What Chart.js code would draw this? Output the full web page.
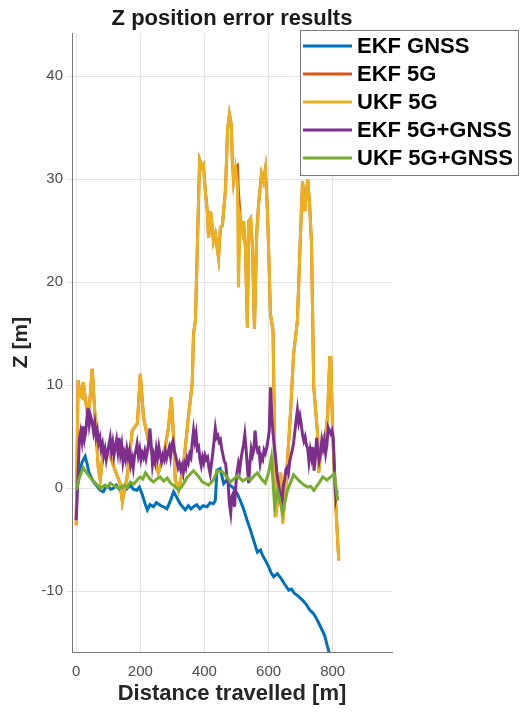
<!DOCTYPE html>
<html lang="en">
  <head>
    <meta charset="UTF-8" />
    <title>Z position error results</title>
    <script src="https://cdn.jsdelivr.net/npm/chart.js@4.4.1/dist/chart.umd.min.js"></script>
    <style>
      body { margin: 0; background: #fff; }
      #wrap { width: 523px; height: 713px; }
    </style>
  </head>
  <body>
    <div id="wrap"><canvas id="myChart"></canvas></div>

    <script>
      // values (distance in m, Z error in m)
      const xTicks = [0, 200, 400, 600, 800]
      const yTicks = [-10, 0, 10, 20, 30, 40]
      const labels = ['EKF GNSS', 'EKF 5G', 'UKF 5G', 'EKF 5G+GNSS', 'UKF 5G+GNSS']

      const ekfGnssDist = [0, 8, 18, 28, 34, 40, 48, 55, 65, 75, 85, 92, 100, 108, 116, 125, 137, 144, 150, 156, 163, 170, 178, 189, 197, 205, 215, 222, 230, 241, 250, 262, 272, 283, 294, 304, 314, 324, 332, 340, 350, 358, 366, 376, 386, 396, 408, 418, 428, 434, 439, 449, 460, 470, 480, 491, 502, 512, 522, 533, 543, 553, 565, 575, 581, 590, 600, 608, 616, 627, 638, 650, 663, 672, 680, 690, 700, 710, 718, 728, 738, 745, 752, 763, 775, 784, 795]
      const ekfGnssZ = [-0.5, 1.0, 2.5, 3.1, 2.4, 1.5, 1.0, 0.6, 0.2, -0.2, -0.35, 0.1, 0.2, -0.1, 0, 0.3, -0.2, 0.1, 0.2, -0.1, 0.1, 0.3, -0.1, -0.2, 0.1, -0.5, -1.5, -2.1, -1.6, -1.8, -1.4, -1.65, -1.8, -2.0, -1.2, -0.35, -0.9, -1.5, -1.8, -2.1, -1.7, -2.0, -1.8, -1.6, -2.0, -1.7, -1.8, -1.4, -1.5, -1.2, 1.75, 1.9, 0.45, 0.8, 0.3, 0, -0.5, -1.2, -2.0, -3.1, -4.0, -5.0, -6.2, -6.0, -6.5, -7.0, -7.6, -8.2, -8.6, -8.3, -8.7, -9.3, -9.9, -9.8, -10.2, -10.4, -10.7, -11.0, -11.3, -11.8, -12.1, -12.4, -12.8, -13.5, -14.3, -15.4, -16.6]

      const ukf5gDist = [0, 6, 12, 19, 22, 28, 37, 44, 50, 59, 69, 75, 84, 100, 122, 137, 144, 159, 175, 191, 200, 210, 225, 241, 256, 272, 288, 297, 303, 309, 319, 334, 350, 362, 366, 372, 385, 394, 397, 403, 409, 413, 419, 425, 428, 434, 440, 444, 450, 456, 466, 472, 478, 484, 487, 491, 497, 503, 506, 512, 519, 522, 528, 534, 538, 544, 550, 556, 563, 569, 578, 584, 590, 597, 606, 614, 622, 638, 644, 653, 659, 669, 678, 690, 700, 706, 713, 722, 728, 734, 741, 753, 756, 769, 778, 784, 791, 794, 800, 809, 816, 819]
      const ekf5gZ = [-3.6, 10.5, 9.0, 8.8, 10.3, 8.8, 6.9, 9.0, 11.6, 6.9, 2.0, 0.8, 3.4, 3.7, 1.7, 0.5, -1.3, 1.1, 5.6, 6.3, 11.1, 6.9, 4.6, 3.0, 1.5, 3.0, 5.9, 8.8, 5.3, 0.8, -0.2, 2.0, 6.9, 10.2, 15.0, 16.3, 31.9, 31.1, 31.3, 28.8, 26.9, 24.3, 26.9, 25.3, 24.0, 24.7, 23.3, 22.4, 25.3, 25.5, 29.1, 34.7, 36.3, 35.3, 31.8, 29.8, 31.1, 31.3, 28.8, 26.2, 25.0, 25.9, 23.3, 15.6, 25.9, 26.2, 23.3, 15.5, 24.7, 27.6, 30.5, 29.8, 31.0, 26.6, 16.9, 15.3, -2.8, 1.5, -3.4, -0.2, 2.7, 7.6, 13.0, 16.3, 25.0, 29.8, 26.9, 30.0, 27.6, 23.7, 9.8, 5.3, 1.5, 4.9, 5.3, 6.9, 12.7, 12.7, 5.3, -1.2, -5.3, -7.0]
      const ukf5gZ = [-3.6, 10.5, 9.0, 8.8, 10.3, 8.8, 6.9, 9.0, 11.6, 6.9, 2.0, 0.8, 3.4, 3.7, 1.7, 0.5, -1.3, 1.1, 5.6, 6.3, 11.1, 6.9, 4.6, 3.0, 1.5, 3.0, 5.9, 8.8, 5.3, 0.8, -0.2, 2.0, 6.9, 10.2, 15.0, 16.3, 31.9, 31.1, 31.3, 28.8, 26.9, 24.3, 26.9, 25.3, 24.0, 24.7, 23.3, 22.4, 25.3, 25.5, 29.1, 34.7, 36.3, 35.3, 31.8, 29.8, 31.1, 29.5, 19.5, 26.2, 25.0, 25.9, 23.3, 15.6, 25.9, 26.2, 23.3, 15.5, 24.7, 27.6, 30.5, 29.8, 31.0, 26.6, 16.9, 15.3, -2.8, 1.5, -3.4, -0.2, 2.7, 7.6, 13.0, 16.3, 25.0, 29.8, 26.9, 30.0, 27.6, 23.7, 9.8, 5.3, 1.5, 4.9, 5.3, 6.9, 12.7, 12.7, 5.3, -1.2, -5.3, -7.0]

      const ekfFusedDist = [0, 5, 10, 14, 18, 22, 26, 30, 34, 37, 41, 45, 50, 54, 58, 62, 66, 70, 74, 78, 82, 86, 90, 94, 98, 102, 106, 110, 114, 118, 122, 126, 130, 134, 138, 142, 146, 150, 154, 158, 162, 166, 170, 174, 178, 182, 186, 190, 194, 198, 202, 206, 210, 214, 218, 222, 226, 230, 234, 238, 242, 246, 250, 254, 258, 262, 266, 270, 274, 278, 282, 286, 290, 294, 298, 302, 306, 310, 314, 318, 322, 326, 330, 334, 338, 342, 346, 350, 354, 358, 362, 366, 370, 374, 378, 382, 386, 390, 394, 398, 402, 406, 410, 414, 418, 422, 426, 430, 434, 438, 442, 446, 450, 454, 458, 462, 466, 470, 474, 478, 482, 486, 490, 494, 498, 502, 506, 510, 514, 518, 522, 526, 530, 534, 538, 542, 546, 550, 554, 558, 562, 566, 570, 574, 578, 582, 586, 590, 594, 598, 602, 606, 610, 614, 618, 622, 626, 630, 634, 638, 642, 646, 650, 654, 658, 662, 666, 670, 674, 678, 682, 686, 690, 694, 698, 702, 706, 710, 714, 718, 722, 726, 730, 734, 738, 742, 746, 750, 754, 758, 762, 766, 770, 774, 778, 782, 786, 790, 794, 798, 802, 806, 810, 814]
      const ekfFusedZ = [-3.1, 0.5, 4.8, 5.5, 4.6, 6.0, 4.8, 5.5, 7.0, 7.8, 6.2, 7.0, 6.4, 5.5, 6.3, 5.0, 5.6, 4.4, 4.9, 3.8, 4.3, 3.2, 3.8, 2.8, 3.5, 4.2, 4.9, 3.6, 4.4, 3.2, 4.0, 4.7, 3.6, 4.9, 3.4, 4.2, 2.6, 3.4, 2.8, 3.8, 3.0, 3.6, 2.3, 2.9, 2.0, 3.2, 3.6, 4.3, 3.2, 3.8, 2.8, 3.4, 3.0, 3.6, 2.9, 3.6, 4.4, 5.8, 4.2, 2.3, 3.2, 2.6, 3.8, 3.0, 4.0, 3.2, 2.6, 3.2, 2.8, 3.6, 2.9, 3.4, 3.9, 3.1, 4.3, 4.6, 3.6, 3.2, 2.6, 2.0, 2.4, 1.8, 2.2, 1.5, 2.4, 2.0, 2.9, 2.5, 3.3, 3.0, 4.4, 5.6, 4.6, 5.3, 3.8, 4.0, 2.8, 2.2, 3.0, 2.5, 3.2, 2.8, 3.0, 2.0, 1.4, 2.4, 3.4, 4.6, 5.8, 4.9, 5.1, 4.5, 4.7, 3.8, 3.2, 2.6, 2.4, 1.2, 0.4, -1.5, -2.4, -0.8, -0.5, -1.8, 0.3, 1.6, 2.4, 1.8, 2.8, 3.6, 4.2, 5.2, 3.8, 2.0, 0.5, 2.5, 3.8, 3.2, 3.7, 5.6, 4.2, 3.6, 3.8, 2.4, 3.1, 2.8, 3.7, 3.4, 3.9, 4.6, 5.5, 9.8, 7.0, 5.3, 4.0, 3.0, 1.5, 0.6, -0.2, -0.8, -1.2, 0.2, 0.8, 1.8, 2.0, 1.5, 2.6, 3.2, 3.7, 4.4, 5.5, 6.6, 7.6, 6.4, 7.0, 6.2, 5.2, 4.6, 5.0, 4.2, 3.9, 2.6, 3.7, 3.0, 4.0, 1.7, 3.0, 4.9, 3.6, 2.7, 3.4, 4.6, 3.9, 4.6, 3.4, 4.2, 5.9, 5.6, 5.3, 5.6, 4.8, 1.5, -0.9, -0.2]

      const ukfFusedDist = [0, 10, 22, 30, 40, 50, 60, 75, 90, 98, 106, 120, 137, 150, 160, 169, 180, 190, 200, 208, 216, 230, 241, 252, 262, 273, 284, 294, 307, 320, 334, 347, 366, 380, 394, 413, 428, 440, 456, 470, 481, 492, 503, 520, 534, 544, 555, 565, 578, 590, 600, 609, 619, 628, 644, 659, 678, 690, 700, 711, 722, 731, 741, 755, 769, 782, 794, 805, 816]
      const ukfFusedZ = [-0.2, 1.0, 2.0, 1.6, 1.2, 0.8, 0.5, 0, 0.3, 0.1, 0.5, 0.2, 0, 0.3, 0.1, 0.6, 0.4, 0.8, 1.1, 0.9, 1.5, 0.9, 0.6, 0.9, 1.1, 0.7, 1.0, 0.5, 0.2, -0.2, 0.4, 1.1, 1.7, 1.2, 0.6, 0.3, 0.8, 1.7, 1.6, 1.1, 0.6, 0.9, 1.2, 0.7, 1.0, 0.8, 1.2, 1.5, 0.9, 0.5, 1.5, 3.0, -1.8, -0.2, -2.4, -0.2, 1.3, 0.9, 0.6, 0.3, 0.1, 0.2, -0.2, 0.4, 1.1, 0.8, 1.1, 1.4, -1.2]

      const colors = ['#0072BD', '#D95319', '#EDB120', '#7E2F8E', '#77AC30']
      const font = '"Liberation Sans", Arial, sans-serif'

      function pts(xs, ys) {
        return xs.map((x, i) => ({ x: x, y: ys[i] }))
      }

      const series = [
        pts(ekfGnssDist, ekfGnssZ),
        pts(ukf5gDist, ekf5gZ),
        pts(ukf5gDist, ukf5gZ),
        pts(ekfFusedDist, ekfFusedZ),
        pts(ukfFusedDist, ukfFusedZ)
      ]

      // title + boxed legend drawn on top, matlab style
      const overlay = {
        id: 'overlay',
        afterDraw(chart) {
          const ctx = chart.ctx
          const area = chart.chartArea
          ctx.save()
          ctx.fillStyle = '#1a1a1a'
          ctx.font = 'bold 22px ' + font
          ctx.textAlign = 'center'
          ctx.textBaseline = 'middle'
          ctx.fillText('Z position error results', (area.left + area.right) / 2, 19)

          const bx = 300, by = 30, bw = 218, bh = 145
          ctx.fillStyle = '#fff'
          ctx.fillRect(bx, by, bw, bh)
          ctx.strokeStyle = '#7a7a7a'
          ctx.lineWidth = 1
          ctx.strokeRect(bx + 0.5, by + 0.5, bw, bh)
          ctx.font = 'bold 22px ' + font
          ctx.textAlign = 'left'
          labels.forEach((lab, i) => {
            const y = 46 + i * 28
            ctx.strokeStyle = colors[i]
            ctx.lineWidth = 3
            ctx.beginPath()
            ctx.moveTo(303, y)
            ctx.lineTo(352, y)
            ctx.stroke()
            ctx.fillStyle = '#000'
            ctx.fillText(lab, 357, y + 1)
          })
          ctx.restore()
        }
      }

      const ctx = document.getElementById('myChart').getContext('2d')
      const myChart = new Chart(ctx, {
        type: 'line',
        data: {
          datasets: series.map((d, i) => ({
            label: labels[i],
            data: d,
            borderColor: colors[i],
            backgroundColor: colors[i],
            borderWidth: 3,
            pointRadius: 0,
            tension: 0,
            fill: false,
            order: 5 - i
          }))
        },
        options: {
          responsive: true,
          maintainAspectRatio: false,
          animation: false,
          layout: { padding: { top: 33, right: 131, left: 0, bottom: 0 } },
          plugins: {
            legend: { display: false },
            tooltip: { enabled: false }
          },
          scales: {
            x: {
              type: 'linear',
              min: -13,
              max: 985,
              afterBuildTicks: s => { s.ticks = xTicks.map(v => ({ value: v })) },
              afterFit: s => { s.height = 61 },
              grid: { color: '#e3e3e3', drawTicks: false },
              border: { color: '#7a7a7a', width: 1 },
              ticks: { padding: 11, color: '#4d4d4d', font: { family: font, size: 15 } },
              title: {
                display: true,
                text: 'Distance travelled [m]',
                color: '#262626',
                font: { family: font, size: 22, weight: 'bold' },
                padding: { top: 0, bottom: 6 }
              }
            },
            y: {
              min: -15.9,
              max: 44.2,
              afterBuildTicks: s => { s.ticks = yTicks.map(v => ({ value: v })) },
              afterFit: s => { s.width = 72 },
              grid: { color: '#e3e3e3', drawTicks: true, tickLength: 6 },
              border: { color: '#7a7a7a', width: 1 },
              ticks: { padding: 3, color: '#4d4d4d', font: { family: font, size: 15 } },
              title: {
                display: true,
                text: 'Z [m]',
                color: '#262626',
                font: { family: font, size: 21, weight: 'bold' },
                padding: { top: 9, bottom: 0 }
              }
            }
          }
        },
        plugins: [overlay]
      })
    </script>
  </body>
</html>
